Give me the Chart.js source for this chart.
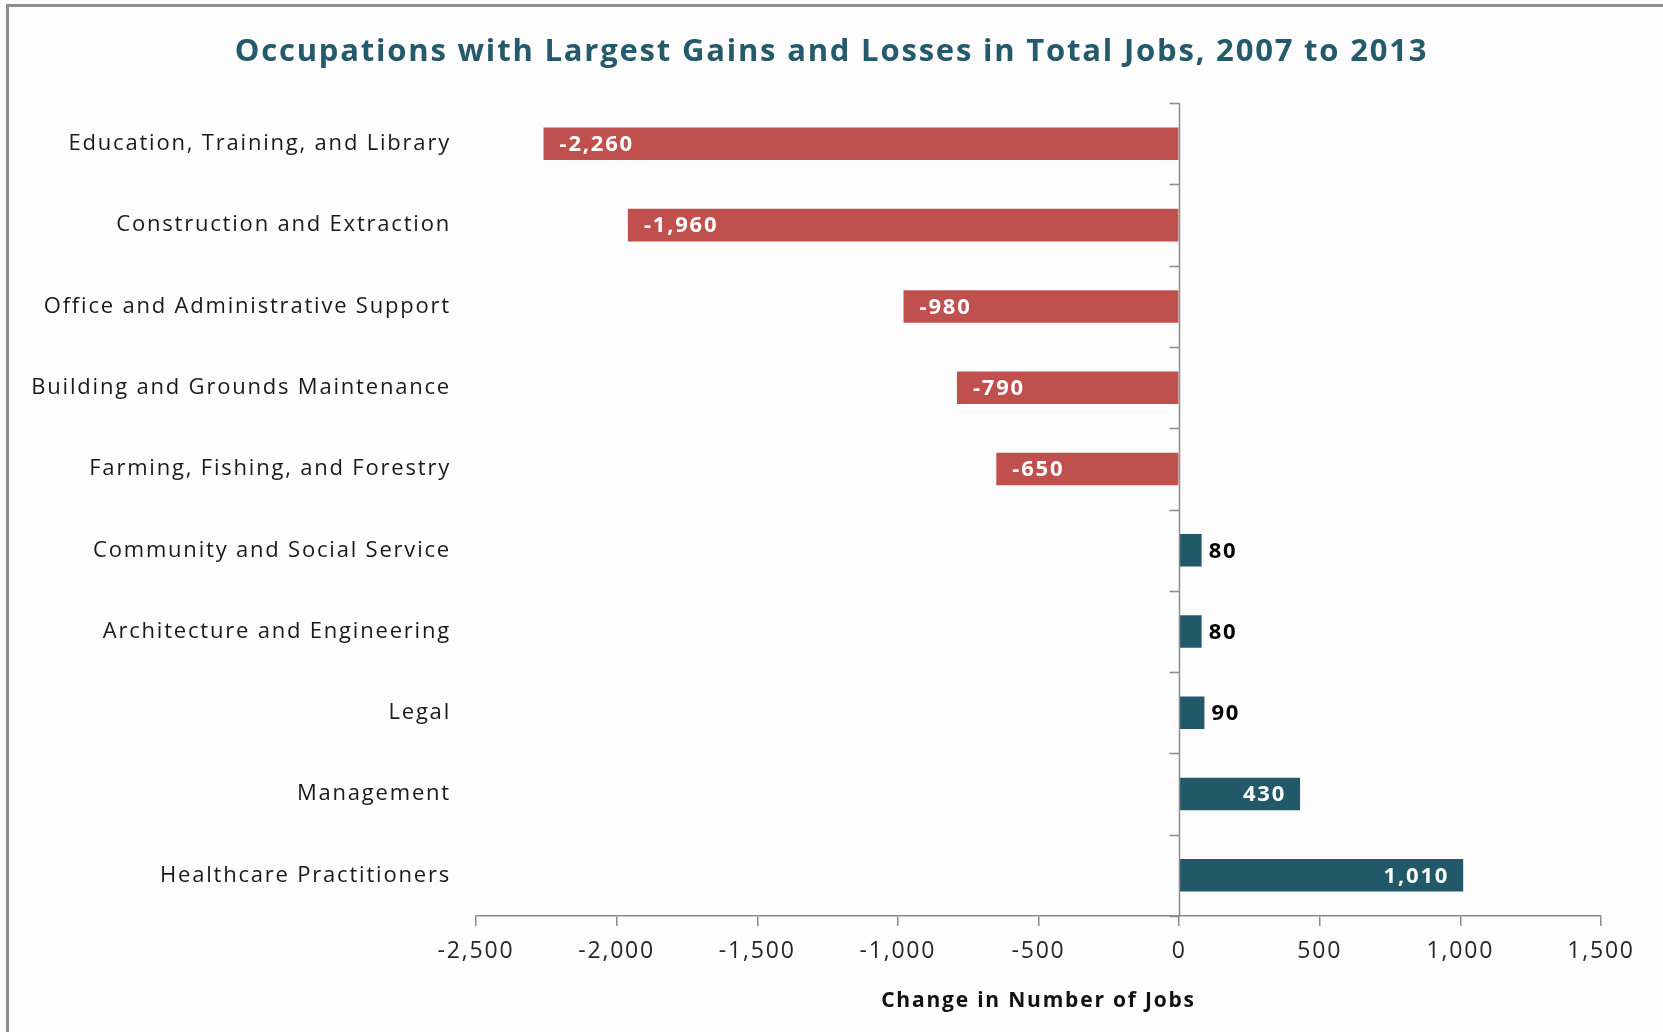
<!DOCTYPE html>
<html>
<head>
<meta charset="utf-8">
<script src="https://cdn.jsdelivr.net/npm/chart.js@4.4.1/dist/chart.umd.min.js"></script>
<style>
  html, body { margin: 0; padding: 0; background: #ffffff; }
  #wrap { position: relative; width: 1663px; height: 1032px; overflow: hidden; background: #fdfdfd; }
  #frame { position: absolute; left: 6px; top: 4px; width: 1700px; height: 1100px;
           border-left: 3px solid #8e8e8e; border-top: 3px solid #8e8e8e; box-sizing: border-box; pointer-events: none; }
  canvas { position: absolute; left: 0; top: 0; }
</style>
</head>
<body>
<div id="wrap">
  <canvas id="chart" width="1663" height="1032"></canvas>
  <div id="frame"></div>
</div>
<script>
// Occupations and change in number of jobs, 2007 to 2013
const occupations = [
  'Education, Training, and Library',
  'Construction and Extraction',
  'Office and Administrative Support',
  'Building and Grounds Maintenance',
  'Farming, Fishing, and Forestry',
  'Community and Social Service',
  'Architecture and Engineering',
  'Legal',
  'Management',
  'Healthcare Practitioners'
];
const jobChange = [-2260, -1960, -980, -790, -650, 80, 80, 90, 430, 1010];
const axisMin = -2500;
const axisMax = 1500;
const axisStep = 500;

const LOSS_COLOR = '#c0504d';
const GAIN_COLOR = '#215968';
const AXIS_COLOR = '#8c8c8c';
const FONT = '"Open Sans", Lato, sans-serif';
const SPACING = '1.8px';

const fmt = v => v.toLocaleString('en-US');

// Slightly open letter spacing for all chart text
const textSpacing = {
  id: 'textSpacing',
  beforeLayout(chart) { chart.ctx.letterSpacing = SPACING; },
  beforeDraw(chart) { chart.ctx.letterSpacing = SPACING; }
};

// Vertical axis drawn at zero, with tick marks between categories
const zeroAxis = {
  id: 'zeroAxis',
  afterDatasetsDraw(chart) {
    const { ctx, chartArea, scales: { x, y } } = chart;
    const x0 = Math.round(x.getPixelForValue(0)) + 0.5;
    ctx.save();
    ctx.strokeStyle = AXIS_COLOR;
    ctx.lineWidth = 1.5;
    ctx.beginPath();
    ctx.moveTo(x0, chartArea.top);
    ctx.lineTo(x0, chartArea.bottom);
    for (let i = 0; i <= occupations.length; i++) {
      const yy = Math.round(y.getPixelForValue(i - 0.5)) + 0.5;
      ctx.moveTo(x0 - 10, yy);
      ctx.lineTo(x0, yy);
    }
    ctx.stroke();
    ctx.restore();
  }
};

// Value labels: inside the bar end when they fit, otherwise just outside
const valueLabels = {
  id: 'valueLabels',
  afterDatasetsDraw(chart) {
    const { ctx } = chart;
    const meta = chart.getDatasetMeta(0);
    ctx.save();
    ctx.letterSpacing = SPACING;
    ctx.font = 'bold 22px ' + FONT;
    ctx.textBaseline = 'middle';
    meta.data.forEach((bar, i) => {
      const v = jobChange[i];
      const text = fmt(v);
      const w = ctx.measureText(text).width;
      const len = Math.abs(bar.x - bar.base);
      const pad = 16;
      if (w + 2 * pad <= len) {
        ctx.fillStyle = '#ffffff';
        if (v < 0) { ctx.textAlign = 'left'; ctx.fillText(text, bar.x + pad, bar.y + 1); }
        else { ctx.textAlign = 'right'; ctx.fillText(text, bar.x - pad + 2, bar.y + 1); }
      } else {
        ctx.fillStyle = '#000000';
        if (v < 0) { ctx.textAlign = 'right'; ctx.fillText(text, bar.x - 7, bar.y + 1); }
        else { ctx.textAlign = 'left'; ctx.fillText(text, bar.x + 7, bar.y + 1); }
      }
    });
    ctx.restore();
  }
};

new Chart(document.getElementById('chart'), {
  type: 'bar',
  data: {
    labels: occupations,
    datasets: [{
      data: jobChange,
      backgroundColor: jobChange.map(v => v < 0 ? LOSS_COLOR : GAIN_COLOR),
      borderWidth: 0,
      barPercentage: 0.4,
      categoryPercentage: 1.0
    }]
  },
  options: {
    indexAxis: 'y',
    responsive: false,
    animation: false,
    devicePixelRatio: 1,
    layout: { padding: { left: 0, right: 0, top: 0, bottom: 0 } },
    plugins: {
      legend: { display: false },
      tooltip: { enabled: false },
      title: {
        display: true,
        text: 'Occupations with Largest Gains and Losses in Total Jobs, 2007 to 2013',
        color: '#245a6b',
        font: { family: FONT, size: 31, weight: 'bold', lineHeight: 1.2 },
        padding: { top: 34, bottom: 32 }
      }
    },
    scales: {
      x: {
        type: 'linear',
        min: axisMin,
        max: axisMax,
        ticks: {
          stepSize: axisStep,
          color: '#262626',
          padding: 12,
          font: { family: FONT, size: 23 },
          callback: v => fmt(v)
        },
        grid: {
          display: true,
          drawOnChartArea: false,
          drawTicks: true,
          tickLength: 10,
          color: AXIS_COLOR,
          lineWidth: 1.5
        },
        border: { display: true, color: AXIS_COLOR, width: 1.5 },
        title: {
          display: true,
          text: 'Change in Number of Jobs',
          color: '#111111',
          font: { family: FONT, size: 21, weight: 'bold', lineHeight: 1.2 },
          padding: { top: 0, bottom: 18 }
        },
        afterFit(scale) { scale.height = 116; }
      },
      y: {
        ticks: {
          color: '#1a1a1a',
          padding: 17,
          font: { family: FONT, size: 22 }
        },
        grid: { display: false },
        border: { display: false },
        afterFit(scale) { scale.width = 476; }
      },
      // empty right-hand margin beside the plot
      yRight: {
        type: 'category',
        position: 'right',
        display: true,
        ticks: { display: false },
        grid: { display: false },
        border: { display: false },
        afterFit(scale) { scale.width = 62; }
      }
    }
  },
  plugins: [textSpacing, zeroAxis, valueLabels]
});
</script>
</body>
</html>
